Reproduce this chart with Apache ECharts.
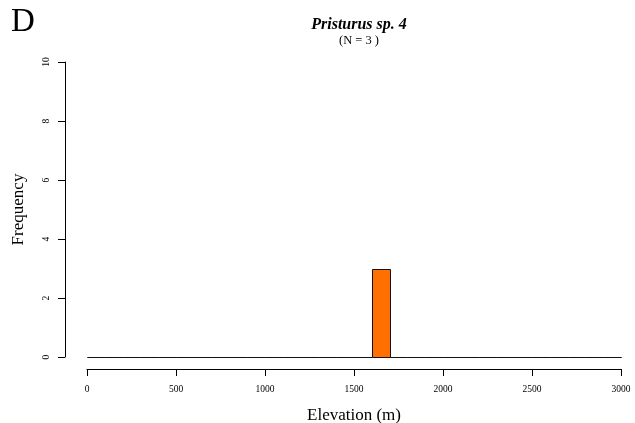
<!DOCTYPE html>
<html><head><meta charset="utf-8">
<script src="https://cdn.jsdelivr.net/npm/echarts@6/dist/echarts.min.js"></script>
<style>html,body{margin:0;padding:0;background:#fff}#c{width:635px;height:423px}</style>
</head><body><div id="c"></div>
<script>
const binStarts = [0,100,200,300,400,500,600,700,800,900,1000,1100,1200,1300,1400,1500,1600,1700,1800,1900,2000,2100,2200,2300,2400,2500,2600,2700,2800,2900];
const binWidth = 100;
const counts = [0,0,0,0,0,0,0,0,0,0,0,0,0,0,0,0,3,0,0,0,0,0,0,0,0,0,0,0,0,0];
const xTicks = [0,500,1000,1500,2000,2500,3000];
const yTicks = [0,2,4,6,8,10];
const titleText = 'Pristurus sp. 4';
const subText = '(N = 3 )';
const panelLabel = 'D';

const F = '"Liberation Serif","DejaVu Serif",serif';
const data = binStarts.map((s,i)=>[s, s+binWidth, counts[i]]);
const chart = echarts.init(document.getElementById('c'));
chart.setOption({
  animation:false,
  grid:{left:87,right:14,top:62,bottom:66,containLabel:false,outerBoundsMode:'none'},
  graphic:[{type:'text',left:11,top:6,style:{text:panelLabel,font:'33px '+F,fill:'#000'}}],
  title:[
    {text:titleText,left:354,textAlign:'center',top:12,textStyle:{fontFamily:F,fontSize:16,fontWeight:'bold',fontStyle:'italic',color:'#000'}},
    {text:subText,left:354,textAlign:'center',top:29,textStyle:{fontFamily:F,fontSize:12.5,fontWeight:'normal',color:'#000'}}
  ],
  xAxis:{type:'value',min:0,max:3000,interval:500,offset:12,
    name:'Elevation (m)',nameLocation:'middle',nameGap:38,
    nameTextStyle:{fontFamily:F,fontSize:17,color:'#000'},
    axisLine:{show:true,onZero:false,lineStyle:{color:'#000',width:1}},
    axisTick:{show:true,length:7,lineStyle:{color:'#000'}},
    axisLabel:{fontFamily:F,fontSize:9.5,color:'#000',margin:15,showMinLabel:true,showMaxLabel:true,
      formatter:function(v){return String(v);}},
    splitLine:{show:false}},
  yAxis:{type:'value',min:0,max:10,interval:2,offset:22,
    name:'Frequency',nameLocation:'middle',nameGap:38,nameRotate:90,
    nameTextStyle:{fontFamily:F,fontSize:17,color:'#000'},
    axisLine:{show:true,onZero:false,lineStyle:{color:'#000',width:1}},
    axisTick:{show:true,length:7,lineStyle:{color:'#000'}},
    axisLabel:{fontFamily:F,fontSize:9.5,color:'#000',rotate:90,margin:19,align:'center',verticalAlign:'middle',
      formatter:function(v){return String(v);}},
    splitLine:{show:false}},
  series:[{type:'custom',
    renderItem:function(params,api){
      const p0=api.coord([api.value(0),0]);
      const p1=api.coord([api.value(1),api.value(2)]);
      const x0=Math.round(p0[0])+0.5, x1=Math.round(p1[0])+0.5;
      const yb=Math.round(p0[1])+0.5, yt=Math.round(p1[1])+0.5;
      return {type:'rect',shape:{x:x0,y:yt,width:x1-x0,height:yb-yt},
        style:{fill:'#FF7000',stroke:'#111',lineWidth:1}};
    },
    encode:{x:[0,1],y:2},
    data:data}]
});
</script></body></html>
